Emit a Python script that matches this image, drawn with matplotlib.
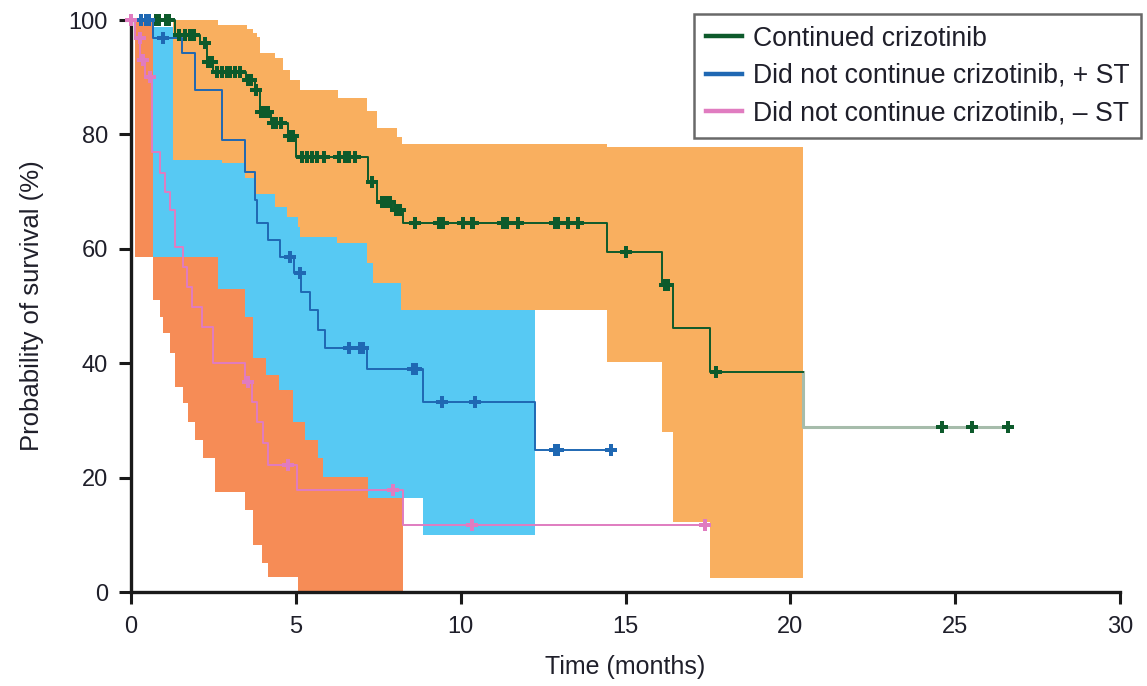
import numpy as np
import matplotlib
matplotlib.use('Agg')
import matplotlib.pyplot as plt
from matplotlib.lines import Line2D

plt.rcParams['font.family'] = ['Liberation Sans', 'DejaVu Sans']

# Kaplan-Meier curves (step times in months, survival in %)
green_t = [0, 1.33, 2.1, 2.3, 2.5, 3.5, 3.75, 3.9, 4.25, 4.75, 5.0, 7.2, 7.45, 7.95, 8.25, 14.45, 16.1, 16.44, 17.56]
green_s = [100, 97.4, 96, 92.7, 91, 89.5, 87.8, 84, 82, 79.7, 76, 71.7, 68.2, 66.8, 64.5, 59.4, 53.7, 46.1, 38.5]
green_tail_t = [20.38, 26.6]
green_tail_s = [28.8, 28.8]

blue_t = [0, 0.67, 1.55, 1.94, 2.75, 3.47, 3.77, 3.83, 4.15, 4.52, 4.95, 5.15, 5.43, 5.67, 5.88, 7.16, 8.86, 12.25]
blue_s = [100, 96.8, 94.2, 87.8, 79.0, 73.4, 68.5, 64.5, 61.5, 58.6, 55.8, 52.4, 49.3, 45.8, 42.7, 39.0, 33.2, 24.8]
blue_end = 14.55

pink_t = [0, 0.12, 0.27, 0.42, 0.65, 0.88, 1.03, 1.18, 1.33, 1.58, 1.7, 1.85, 2.15, 2.49, 3.46, 3.67, 3.82, 4.0, 4.16, 5.03, 8.25]
pink_s = [100, 96.8, 93, 90, 77, 73.3, 70, 66.8, 60.3, 56.8, 53.3, 49.8, 46.3, 40, 36.7, 33.2, 29.7, 26, 22.2, 17.8, 11.7]
pink_end = 17.5

# censoring marks
green_ct = [0.75, 0.85, 1.05, 1.15, 1.45, 1.65, 1.8, 1.9, 2.25, 2.35, 2.45, 2.6, 2.75, 2.9, 3.0, 3.15, 3.3,
            3.55, 3.65, 3.8, 3.95, 4.05, 4.15, 4.3, 4.4, 4.55, 4.8, 4.9,
            5.2, 5.35, 5.5, 5.65, 5.85, 6.3, 6.5, 6.6, 6.8, 7.3, 7.6, 7.75, 7.85, 8.05, 8.15,
            8.6, 9.35, 9.45, 10.07, 10.34, 10.37, 11.28, 11.4, 11.74, 12.86, 12.95, 13.25, 13.56,
            15.0, 16.2, 16.3, 17.75, 24.6, 25.5, 26.6]
green_cs = [100, 100, 100, 100, 97.4, 97.4, 97.4, 97.4, 96, 92.7, 92.7, 91, 91, 91, 91, 91, 91,
            89.5, 89.5, 87.8, 84, 84, 84, 82, 82, 82, 79.7, 79.7,
            76, 76, 76, 76, 76, 76, 76, 76, 76, 71.7, 68.2, 68.2, 68.2, 66.8, 66.8,
            64.5, 64.5, 64.5, 64.5, 64.5, 64.5, 64.5, 64.5, 64.5, 64.5, 64.5, 64.5, 64.5,
            59.4, 53.7, 53.7, 38.5, 28.8, 28.8, 28.8]
blue_ct = [0.3, 0.45, 0.55, 0.97, 4.82, 5.13, 6.6, 6.95, 7.05, 8.55, 8.65, 9.43, 10.43, 12.85, 12.95, 14.55]
blue_cs = [100, 100, 100, 96.8, 58.6, 55.8, 42.7, 42.7, 42.7, 39.0, 39.0, 33.2, 33.2, 24.8, 24.8, 24.8]
pink_ct = [0.0, 0.27, 0.36, 0.58, 3.55, 4.76, 7.95, 10.34, 17.4]
pink_cs = [100, 96.8, 93, 90, 36.7, 22.2, 17.8, 11.7, 11.7]

# confidence bands (step start times, values)
gl_t = [1.27, 2.76, 3.46, 3.73, 4.37, 4.73, 5.07, 5.13, 6.25, 7.16, 7.34, 8.2, 14.45, 16.1, 16.44, 17.56]
gl_v = [75.5, 75.0, 72.4, 69.6, 67.3, 65.6, 63.8, 62.1, 61.0, 57.5, 54.0, 49.3, 40.2, 28.0, 12.2, 2.4]
gu_t = [1.27, 2.65, 3.51, 3.70, 3.81, 3.91, 4.37, 4.62, 4.82, 5.13, 6.29, 7.15, 7.45, 8.06, 8.21, 14.45]
gu_v = [100, 99.1, 98.5, 97.7, 97.1, 94.2, 93.3, 91.3, 89.5, 87.8, 86.3, 84.1, 81.1, 79.6, 78.4, 77.8]
g_band_end = 20.38

bl_t = [0.67, 2.65, 3.46, 3.71, 4.1, 4.5, 4.9, 5.27, 5.67, 5.82, 7.18, 8.86]
bl_v = [58.6, 53.0, 48.0, 41.0, 38.0, 35.3, 29.7, 26.6, 23.4, 20.1, 16.4, 10.0]
bu_t = [0.67, 1.94, 2.7, 3.5, 3.85, 4.6, 5.2, 5.9, 7.16, 8.86]
bu_v = [98.8, 94, 88, 82, 78, 74, 70, 64, 58, 52]
b_band_end = 12.25

pl_t = [0.12, 0.68, 0.88, 0.98, 1.18, 1.33, 1.59, 1.74, 1.94, 2.19, 2.55, 3.46, 3.71, 3.96, 4.16, 5.07]
pl_v = [58.6, 51.0, 48.1, 45.2, 41.7, 35.9, 33.0, 29.8, 26.6, 23.4, 17.5, 14.3, 8.2, 5.0, 2.7, 0]
pu_t = [0.12, 0.68, 1.0, 1.33, 1.7, 2.2, 2.55, 3.5, 3.8, 4.16, 5.07]
pu_v = [100, 95, 90, 85, 80, 72, 62, 58, 52, 45, 38]
p_band_end = 8.25

labels = ['Continued crizotinib', 'Did not continue crizotinib, + ST', 'Did not continue crizotinib, \u2013 ST']

c_green = '#0d5a2b'
c_blue = '#1f68b3'
c_pink = '#e07cc0'
c_text = '#1f1f2a'


def band(ax, lt, lv, ut, uv, end, color):
    grid = np.union1d(np.union1d(lt, ut), [end])
    lo = np.array(lv)[np.searchsorted(lt, grid, side='right') - 1]
    hi = np.array(uv)[np.searchsorted(ut, grid, side='right') - 1]
    ax.fill_between(grid, lo, hi, step='post', color=color, lw=0)


def km(ax, t, s, end, color, lw=1.4):
    tt = list(t) + [end]
    ss = list(s) + [s[-1]]
    ax.step(tt, ss, where='post', color=color, lw=lw, clip_on=False, zorder=4)


fig = plt.figure(figsize=(11.47, 6.86), dpi=100)
ax = fig.add_axes([0.1142, 0.137, 0.8623, 0.8338])

band(ax, pl_t, pl_v, pu_t, pu_v, p_band_end, '#f68c56')
band(ax, bl_t, bl_v, bu_t, bu_v, b_band_end, '#57c9f3')
band(ax, gl_t, gl_v, gu_t, gu_v, g_band_end, '#f9af5f')

km(ax, green_t, green_s, green_tail_t[0], c_green)
ax.step([green_tail_t[0], green_tail_t[0]] + green_tail_t[1:], [green_s[-1]] + green_tail_s,
        where='post', color='#a6bcab', lw=2.2, zorder=3)
km(ax, blue_t, blue_s, blue_end, c_blue)
km(ax, pink_t, pink_s, pink_end, c_pink)

mk = dict(marker='P', linestyle='none', markersize=8.5, markeredgewidth=0, clip_on=False, zorder=5)
ax.plot(green_ct, green_cs, color=c_green, **mk)
ax.plot(blue_ct, blue_cs, color=c_blue, **mk)
ax.plot(pink_ct, pink_cs, color=c_pink, **mk)

ax.set_xlim(0, 30)
ax.set_ylim(0, 100)
ax.set_xticks(range(0, 31, 5))
ax.set_yticks(range(0, 101, 20))
for side in ['top', 'right']:
    ax.spines[side].set_visible(False)
for side in ['left', 'bottom']:
    ax.spines[side].set_linewidth(2.4)
    ax.spines[side].set_color('#1a1a1a')
ax.tick_params(axis='both', direction='out', length=8.5, width=2.2, labelsize=17,
               colors='#1a1a1a', labelcolor=c_text)
ax.tick_params(axis='y', pad=8)
ax.tick_params(axis='x', pad=9)
ax.set_xlabel('Time (months)', fontsize=18, color=c_text, labelpad=12)
ax.set_ylabel('Probability of survival (%)', fontsize=18.5, color=c_text, labelpad=18)

handles = [Line2D([], [], color=c, lw=3.2) for c in [c_green, c_blue, c_pink]]
leg = fig.legend(handles, labels, loc='upper right', bbox_to_anchor=(0.995, 0.98),
                 fontsize=19.2, frameon=True, fancybox=False, handlelength=1.35,
                 handletextpad=0.4, borderpad=0.45, labelspacing=0.42, borderaxespad=0)
leg.get_frame().set_edgecolor('#444444')
leg.get_frame().set_linewidth(1.8)
for txt in leg.get_texts():
    txt.set_color(c_text)

fig.savefig('out.png', dpi=100)
